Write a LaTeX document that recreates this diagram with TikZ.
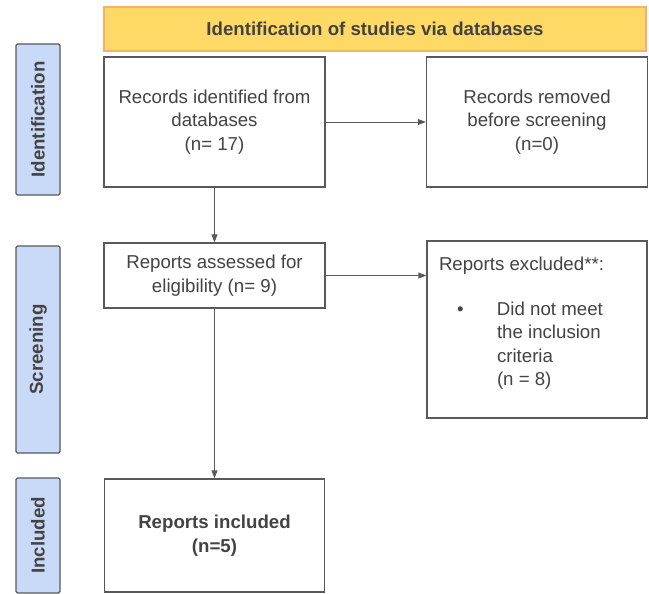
\documentclass[tikz,border=0pt]{standalone}
\usepackage{fontspec}
\setmainfont{Liberation Sans}
\usetikzlibrary{arrows.meta}
\definecolor{bannerfill}{HTML}{FFD966}
\definecolor{bannerline}{HTML}{F6B26B}
\definecolor{phasefill}{HTML}{C9DAF8}
\definecolor{inkgray}{HTML}{434343}
\definecolor{linegray}{HTML}{595959}
\tikzset{
	stagebox/.style={draw=linegray, line width=1.3pt, fill=white, align=center, inner sep=0pt, text=inkgray},
	phase/.style={draw=linegray, line width=1.3pt, fill=phasefill, rounded corners=1.5pt, rotate=90, minimum height=44pt, inner sep=0pt, text=inkgray, font=\bfseries\fontsize{18.67}{22}\selectfont},
	banner/.style={draw=bannerline, line width=1.6pt, fill=bannerfill, minimum width=542pt, minimum height=44pt, inner sep=0pt, text=inkgray, font=\bfseries\fontsize{18.67}{22}\selectfont},
	flow/.style={draw=linegray, line width=0.9pt, -{Triangle[length=8pt,width=6pt]}},
}
\begin{document}
\begin{tikzpicture}[x=1pt, y=-1pt, font=\fontsize{18.67}{23.5}\selectfont]
		\useasboundingbox (0,0) rectangle (649,594);
		\node[banner] (title) at (375,29) {Identification of studies via databases};
		\node[phase, minimum width=151pt] (idphase) at (38,119.5) {Identification};
		\node[phase, minimum width=207pt] (scrphase) at (38,349.5) {Screening};
		\node[phase, minimum width=115pt] (incphase) at (38,535.5) {Included};
		\node[stagebox, minimum width=221pt, minimum height=130pt] (records) at (214.5,122) {Records identified from\\databases\\(n= 17)};
		\node[stagebox, minimum width=221pt, minimum height=130pt] (removed) at (537,122) {Records removed\\before screening\\(n=0)};
		\node[stagebox, minimum width=221pt, minimum height=65pt] (assessed) at (214.5,275.5) {Reports assessed for\\eligibility (n= 9)};
		\node[stagebox, minimum width=220pt, minimum height=177pt] (excluded) at (537,329.5) {%
			\parbox[c][177pt][t]{196pt}{\raggedright\vspace*{16pt}Reports excluded**:\par\vspace{21pt}%
				\hspace*{18pt}\makebox[40pt][l]{\textbullet}\parbox[t]{130pt}{Did not meet\\the inclusion\\criteria\\(n = 8)}}};
		\node[stagebox, minimum width=220pt, minimum height=113pt, font=\bfseries\fontsize{18.67}{23.5}\selectfont] (included) at (214.5,535.5) {Reports included\\(n=5)};
		\draw[flow] (records) -- (removed);
		\draw[flow] (records) -- (assessed);
		\draw[flow] (assessed.east) -- (assessed.east -| excluded.west);
		\draw[flow] (assessed) -- (included);
	\end{tikzpicture}
\end{document}
